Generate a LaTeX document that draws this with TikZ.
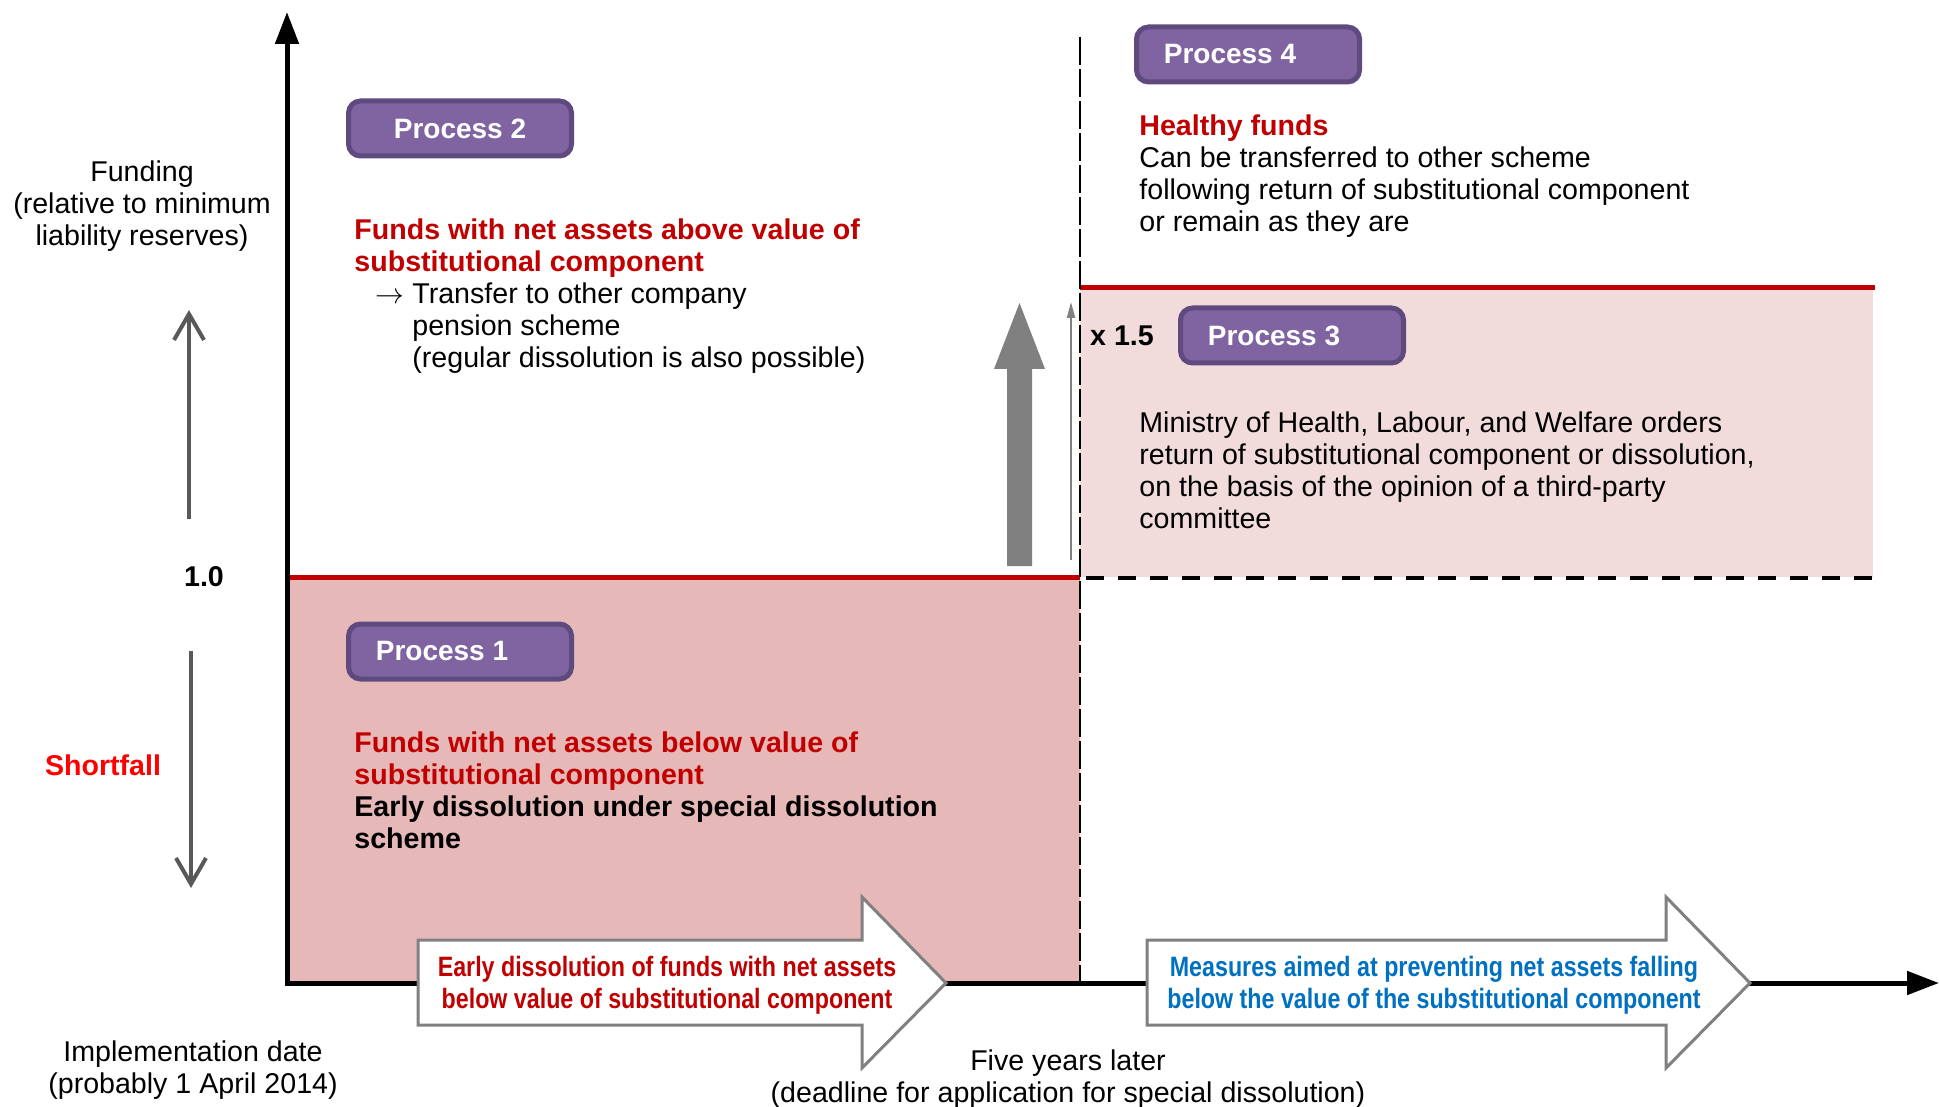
\documentclass[tikz,border=0pt]{standalone}
\usepackage{fontspec}
\setmainfont{Liberation Sans}
\newfontfamily\narrowsans[FakeStretch=0.83]{Liberation Sans}
\usepackage{xcolor}
\usetikzlibrary{arrows.meta,positioning}
\definecolor{darkred}{RGB}{192,0,0}
\definecolor{brightred}{RGB}{255,0,0}
\definecolor{measureblue}{RGB}{0,112,192}
\definecolor{procfill}{RGB}{128,100,162}
\definecolor{procedge}{RGB}{94,74,126}
\definecolor{lowpink}{RGB}{230,185,184}
\definecolor{highpink}{RGB}{242,220,219}
\definecolor{arrowgray}{RGB}{128,128,128}
\definecolor{scalegray}{RGB}{89,89,89}

\begin{document}
\begin{tikzpicture}[x=0.5pt, y=-0.5pt, inner sep=0pt,
    font=\fontsize{14.3}{16}\selectfont,
    procbox/.style={draw=procedge, fill=procfill, line width=2.5pt, rounded corners=6pt,
      minimum width=111.5pt, minimum height=27.5pt, text=white,
      font=\fontsize{14}{16}\selectfont\bfseries},
    note/.style={anchor=north west, align=left},
    blockarrow/.style={draw=arrowgray, fill=white, line width=1.5pt, line join=miter},
    arrowtext/.style={align=center, font=\narrowsans\fontsize{14}{16}\selectfont\bfseries},
    axisline/.style={line width=2.5pt,
      {Triangle[length=16pt,width=11.5pt]}-{Triangle[length=16pt,width=11.5pt]}},
    scalearrow/.style={draw=scalegray, line width=2pt, -{Straight Barb[length=13pt,width=15pt]}}]
    \useasboundingbox (0,0) rectangle (1939,1107);
    \fill[lowpink] (287,577) rectangle (1080,983);
    \fill[highpink] (1080,288) rectangle (1873,577);
    \draw[darkred, line width=2.5pt] (287,577) -- (1080,577);
    \draw[darkred, line width=2.5pt] (1080,288) -- (1875,288);
    \draw[line width=2pt, dash pattern=on 9pt off 7pt] (1086,578) -- (1875,578);
    \draw[line width=1pt, dash pattern=on 14pt off 2pt] (1080,37) -- (1080,983);
    \coordinate (ytop) at (287,12);
    \coordinate (origin) at (287,983);
    \coordinate (xend) at (1939,983);
    \draw[axisline] (ytop) -- (origin) -- (xend);
    \draw[scalearrow] (189,519) -- (189,310);
    \draw[scalearrow] (191,651) -- (191,888);
    \fill[arrowgray] (1007,566) -- (1007,369) -- (994,369) -- (1019.5,303)
      -- (1045,369) -- (1032,369) -- (1032,566) -- cycle;
    \draw[arrowgray, line width=1pt, -{Triangle[length=8pt,width=4pt]}] (1071,560) -- (1071,302);
    \draw[blockarrow] (418,940) -- (862,940) -- (862,897) -- (946,983)
      -- (862,1068) -- (862,1025) -- (418,1025) -- cycle;
    \draw[blockarrow] (1147,940) -- (1666,940) -- (1666,897) -- (1750,983)
      -- (1666,1068) -- (1666,1025) -- (1147,1025) -- cycle;
    \foreach \n/\cx/\cy/\shift in {1/460/651.5/-18pt, 2/460/128.5/0pt, 3/1292/335.5/-18pt, 4/1248/54.5/-18pt}
      \node[procbox] (proc\n) at (\cx,\cy) {\hspace*{\shift}Process \n};
    \node[note] (abovetext) at (354,218) {\textcolor{darkred}{\bfseries Funds with net assets above value of}\\
      \textcolor{darkred}{\bfseries substitutional component}\\
      \hspace*{10.5pt}\makebox[18.5pt][l]{$\rightarrow$}Transfer to other company\\
      \hspace*{29pt}pension scheme\\
      \hspace*{29pt}(regular dissolution is also possible)};
    \node[note] (healthytext) at (1139,114) {\textcolor{darkred}{\bfseries Healthy funds}\\
      Can be transferred to other scheme\\
      following return of substitutional component\\
      or remain as they are};
    \node[note] (ministrytext) at (1139,411) {Ministry of Health, Labour, and Welfare orders\\
      return of substitutional component or dissolution,\\
      on the basis of the opinion of a third-party\\
      committee};
    \node[note] (belowtext) at (354,731) {\textcolor{darkred}{\bfseries Funds with net assets below value of}\\
      \textcolor{darkred}{\bfseries substitutional component}\\
      {\bfseries Early dissolution under special dissolution}\\
      {\bfseries scheme}};
    \node[align=center] (funding) at (142,206) {Funding\\(relative to minimum\\liability reserves)};
    \node (oneline) at (204,577) {\bfseries 1.0};
    \node[text=brightred] (shortfall) at (103,765) {\bfseries Shortfall};
    \node (factor) at (1122,336) {\bfseries x 1.5};
    \node[align=center] (startdate) at (193,1070) {Implementation date\\(probably 1 April 2014)};
    \node[align=center] (deadline) at (1068,1079) {Five years later\\(deadline for application for special dissolution)};
    \node[arrowtext, text=darkred] (earlytext) at (667,985)
      {Early dissolution of funds with net assets\\below value of substitutional component};
    \node[arrowtext, text=measureblue] (measuretext) at (1434,985)
      {Measures aimed at preventing net assets falling\\below the value of the substitutional component};
  \end{tikzpicture}
\end{document}
